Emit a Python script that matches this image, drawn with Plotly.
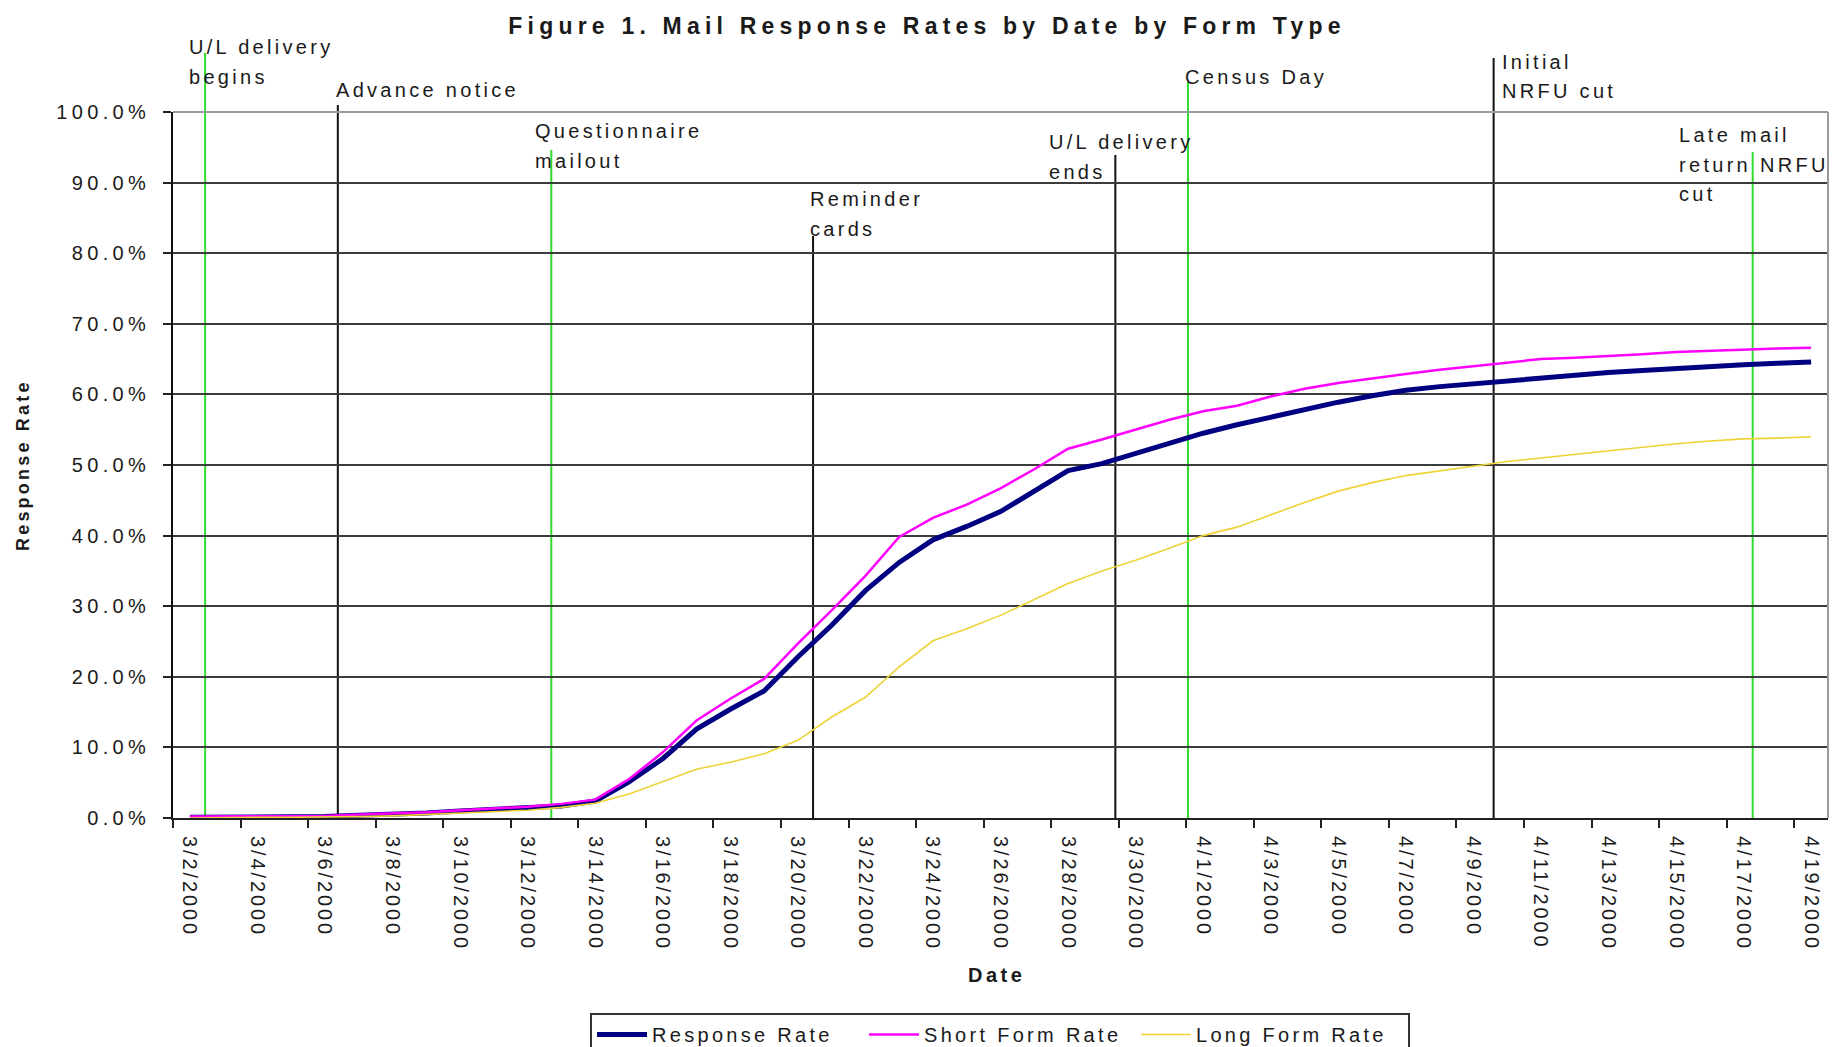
import pandas as pd
import plotly.graph_objects as go

# ---- data -------------------------------------------------------------
date_labels = [
    "3/2/2000", "3/3/2000", "3/4/2000", "3/5/2000", "3/6/2000", "3/7/2000",
    "3/8/2000", "3/9/2000", "3/10/2000", "3/11/2000", "3/12/2000", "3/13/2000",
    "3/14/2000", "3/15/2000", "3/16/2000", "3/17/2000", "3/18/2000", "3/19/2000",
    "3/20/2000", "3/21/2000", "3/22/2000", "3/23/2000", "3/24/2000", "3/25/2000",
    "3/26/2000", "3/27/2000", "3/28/2000", "3/29/2000", "3/30/2000", "3/31/2000",
    "4/1/2000", "4/2/2000", "4/3/2000", "4/4/2000", "4/5/2000", "4/6/2000",
    "4/7/2000", "4/8/2000", "4/9/2000", "4/10/2000", "4/11/2000", "4/12/2000",
    "4/13/2000", "4/14/2000", "4/15/2000", "4/16/2000", "4/17/2000", "4/18/2000",
    "4/19/2000",
]

response_rate = [
    0.1, 0.1, 0.2, 0.2, 0.2, 0.4, 0.5, 0.7, 1.0, 1.2, 1.4, 1.7,
    2.4, 5.1, 8.4, 12.6, 15.4, 18.0, 22.8, 27.3, 32.2, 36.2, 39.4, 41.3,
    43.4, 46.2, 49.2, 50.2, 51.6, 53.1, 54.5, 55.7, 56.8, 57.9, 58.9, 59.8,
    60.6, 61.1, 61.5, 62.0, 62.4, 62.7, 63.1, 63.4, 63.7, 63.9, 64.2, 64.4,
    64.6,
]

short_form_rate = [
    0.2, 0.2, 0.3, 0.3, 0.3, 0.5, 0.6, 0.8, 1.1, 1.3, 1.6, 2.0,
    2.6, 5.5, 9.3, 13.8, 16.9, 19.7, 24.7, 29.4, 34.3, 39.8, 42.5, 44.4,
    46.7, 49.4, 52.3, 53.6, 55.0, 56.4, 57.6, 58.4, 59.7, 60.8, 61.6, 62.3,
    62.9, 63.5, 64.0, 64.6, 65.0, 65.2, 65.4, 65.7, 66.0, 66.2, 66.4, 66.5,
    66.6,
]

long_form_rate = [
    0.0, 0.1, 0.1, 0.1, 0.1, 0.2, 0.3, 0.5, 0.7, 0.9, 1.1, 1.5,
    2.1, 3.4, 5.1, 6.9, 7.9, 9.1, 11.0, 14.3, 17.1, 21.4, 25.1, 26.8,
    28.7, 31.0, 33.2, 35.0, 36.5, 38.2, 40.0, 41.2, 43.0, 44.7, 46.3, 47.5,
    48.5, 49.2, 49.8, 50.5, 51.0, 51.5, 52.0, 52.6, 53.0, 53.4, 53.7, 53.8,
    54.0,
]

y_tick_values = [0, 10, 20, 30, 40, 50, 60, 70, 80, 90, 100]

# milestones marked on the timeline
event_labels = [
    "U/L delivery<br>begins", "Advance notice", "Questionnaire<br>mailout",
    "Reminder<br>cards", "U/L delivery<br>ends", "Census Day",
    "Initial<br>NRFU cut", "Late mail<br>return NRFU<br>cut",
]
event_times = [
    "2000-03-02 10:48", "2000-03-06 09:07", "2000-03-12 16:48",
    "2000-03-20 10:48", "2000-03-29 09:36", "2000-03-31 13:12",
    "2000-04-09 14:24", "2000-04-17 06:29",
]

# ---- styling ------------------------------------------------------------
FONT = "Liberation Sans, Arial, sans-serif"
INK = "#1a1a1a"
GREEN = "#2fdc2f"
BLACK = "#111111"
GRID = "#3c3c3c"
BORDER = "#9a9a9a"

W, H = 1832, 1047
M_L, M_R, M_T, M_B = 173, 4, 112, 229
PLOT_TOP, PLOT_BOTTOM = M_T, H - M_B
PLOT_LEFT, PLOT_RIGHT = M_L, W - M_R


def paper_y(px):
    return (PLOT_BOTTOM - px) / (PLOT_BOTTOM - PLOT_TOP)


def paper_x(px):
    return (px - PLOT_LEFT) / (PLOT_RIGHT - PLOT_LEFT)


def spaced(text, px=3.0, bold=False):
    inner = f"<b>{text}</b>" if bold else text
    return f'<span style="letter-spacing:{px}px">{inner}</span>'


event_colors = [GREEN, BLACK, GREEN, BLACK, BLACK, GREEN, BLACK, GREEN]
event_line_top_px = [53, 105, 150, 236, 155, 82, 58, 152]
event_text_dx = [-18, -4, -18, -5, -68, -5, 6, -76]
event_text_y_px = [47, 90, 131, 199, 142, 77, 62, 135]
LINE_GAP = 29.5
LABEL_SPACING = 3.3

dates = pd.to_datetime(date_labels, format="%m/%d/%Y")

fig = go.Figure()
fig.add_trace(go.Scatter(
    x=dates, y=response_rate, mode="lines", name=spaced("Response Rate", LABEL_SPACING),
    line=dict(color="#000080", width=5),
))
fig.add_trace(go.Scatter(
    x=dates, y=short_form_rate, mode="lines", name=spaced("Short Form Rate", LABEL_SPACING),
    line=dict(color="#ff00ff", width=2.5),
))
fig.add_trace(go.Scatter(
    x=dates, y=long_form_rate, mode="lines", name=spaced("Long Form Rate", LABEL_SPACING),
    line=dict(color="#eed236", width=1.6),
))

shapes = []
annotations = []
for label, when, color, top, dx, ty in zip(
        event_labels, event_times, event_colors, event_line_top_px,
        event_text_dx, event_text_y_px):
    shapes.append(dict(
        type="line", xref="x", yref="paper", x0=when, x1=when,
        y0=0, y1=paper_y(top), line=dict(color=color, width=2), layer="between",
    ))
    for i, line_text in enumerate(label.split("<br>")):
        annotations.append(dict(
            xref="x", yref="paper", x=when, y=paper_y(ty + i * LINE_GAP),
            xanchor="left", yanchor="middle", xshift=dx, showarrow=False,
            text=spaced(line_text, LABEL_SPACING), font=dict(size=20, color=INK),
        ))

# plot-area frame on top and right
shapes.append(dict(type="line", xref="paper", yref="paper", x0=0, x1=1, y0=1, y1=1,
                   line=dict(color=BORDER, width=2), layer="above"))
shapes.append(dict(type="line", xref="paper", yref="paper", x0=1, x1=1, y0=0, y1=1,
                   line=dict(color=BORDER, width=2), layer="above"))

# axis titles
annotations.append(dict(
    xref="paper", yref="paper", x=paper_x(23), y=0.5, textangle=-90,
    xanchor="center", yanchor="middle", showarrow=False,
    text=spaced("Response Rate", 3.2, bold=True), font=dict(size=18, color=INK),
))
annotations.append(dict(
    xref="paper", yref="paper", x=paper_x(996), y=paper_y(975),
    xanchor="center", yanchor="middle", showarrow=False,
    text=spaced("Date", 3.5, bold=True), font=dict(size=20, color=INK),
))

day_ms = 86400000
fig.update_xaxes(
    range=["2000-03-01 12:00", "2000-04-19 12:00"],
    tickmode="array", tickvals=dates[::2],
    ticktext=[spaced(t, 2.9) for t in date_labels[::2]],
    tickangle=90, ticks="", ticklabelstandoff=12,
    tickfont=dict(size=20, color=INK),
    showline=True, linecolor="#222222", linewidth=2,
    showgrid=False, zeroline=False,
    minor=dict(ticks="outside", ticklen=8, tickwidth=2, tickcolor="#222222",
               tick0="2000-03-01 12:00", dtick=2 * day_ms, showgrid=False),
)
fig.update_yaxes(
    range=[0, 100], tickmode="array", tickvals=y_tick_values,
    ticktext=[spaced(f"{v:.1f}%", 4.3) for v in y_tick_values],
    ticks="outside", ticklen=8, tickwidth=2, tickcolor="#222222",
    ticklabelstandoff=9,
    tickfont=dict(size=20, color=INK),
    showline=True, linecolor="#111111", linewidth=2,
    showgrid=True, gridcolor=GRID, gridwidth=2, zeroline=False,
)

fig.update_layout(
    width=W, height=H,
    margin=dict(l=M_L, r=M_R, t=M_T, b=M_B, autoexpand=False),
    paper_bgcolor="white", plot_bgcolor="white",
    font=dict(family=FONT, color=INK),
    title=dict(
        text=spaced("Figure 1. Mail Response Rates by Date by Form Type", 5.2, bold=True),
        font=dict(size=23, color=INK),
        xref="container", yref="container", x=927 / W, y=1 - 26 / H,
        xanchor="center", yanchor="middle",
    ),
    showlegend=True,
    legend=dict(
        orientation="h", xref="paper", yref="paper",
        x=paper_x(1000), y=paper_y(1013), xanchor="center", yanchor="top",
        bgcolor="white", bordercolor="#333333", borderwidth=2,
        font=dict(size=20, color=INK), itemwidth=50,
        entrywidth=207, entrywidthmode="pixels", tracegroupgap=0,
    ),
    shapes=shapes,
    annotations=annotations,
)

fig.write_html("out.html")
